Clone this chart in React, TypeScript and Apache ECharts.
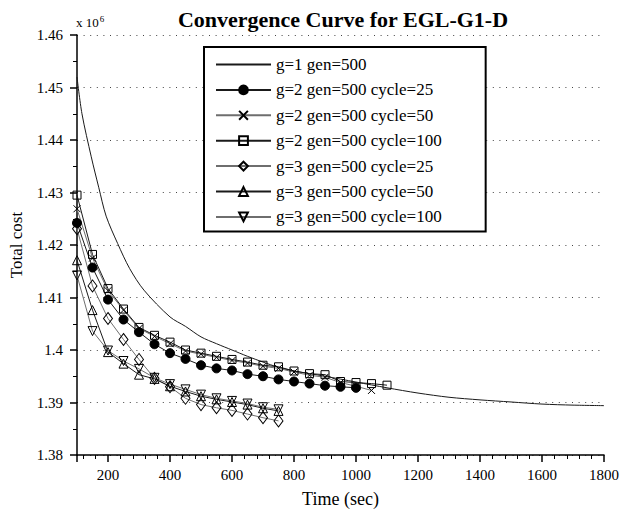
import React, { useEffect, useRef } from "react";
import * as echarts from "echarts";

const FONT = '"Liberation Serif", "Times New Roman", Times, serif';

const seriesNames = [
  "g=1 gen=500",
  "g=2 gen=500 cycle=25",
  "g=2 gen=500 cycle=50",
  "g=2 gen=500 cycle=100",
  "g=3 gen=500 cycle=25",
  "g=3 gen=500 cycle=50",
  "g=3 gen=500 cycle=100",
];

// g=1 gen=500 (plain curve)
const g1Times = [100, 116, 146, 170, 194, 231, 270, 316, 400, 450, 500, 550, 600, 650, 700, 750, 800, 850, 900, 1000, 1100, 1200, 1300, 1400, 1500, 1600, 1700, 1800];
const g1Cost = [1.452, 1.445, 1.4368, 1.431, 1.4255, 1.4203, 1.4155, 1.4114, 1.4063, 1.4045, 1.4025, 1.4012, 1.4, 1.3988, 1.3977, 1.3967, 1.396, 1.3955, 1.395, 1.3939, 1.3928, 1.3918, 1.391, 1.3905, 1.3901, 1.3897, 1.3895, 1.3894];

// g=2 cycle=25 (filled circles)
const g2c25Times = [100, 150, 200, 250, 300, 350, 400, 450, 500, 550, 600, 650, 700, 750, 800, 850, 900, 950, 1000];
const g2c25Cost = [1.4242, 1.4157, 1.4096, 1.4058, 1.4034, 1.4011, 1.3994, 1.3983, 1.3971, 1.3965, 1.3961, 1.3954, 1.395, 1.3944, 1.394, 1.3936, 1.3932, 1.393, 1.3928];

// g=2 cycle=50 (crosses)
const g2c50Times = [100, 150, 200, 250, 300, 350, 400, 450, 500, 550, 600, 650, 700, 750, 800, 850, 900, 950, 1000, 1050];
const g2c50Cost = [1.4269, 1.4175, 1.4113, 1.4076, 1.4041, 1.4026, 1.4012, 1.3998, 1.3992, 1.3986, 1.398, 1.3975, 1.3969, 1.3965, 1.3958, 1.3952, 1.3948, 1.3938, 1.3931, 1.3923];

// g=2 cycle=100 (squares)
const g2c100Times = [100, 150, 200, 250, 300, 350, 400, 450, 500, 550, 600, 650, 700, 750, 800, 850, 900, 950, 1000, 1050, 1100];
const g2c100Cost = [1.4295, 1.4182, 1.4117, 1.4078, 1.4043, 1.4028, 1.4015, 1.4, 1.3994, 1.3988, 1.3982, 1.3977, 1.3971, 1.3968, 1.396, 1.3955, 1.3953, 1.394, 1.3938, 1.3936, 1.3933];

// g=3 cycle=25 (diamonds)
const g3c25Times = [100, 150, 200, 250, 300, 350, 400, 450, 500, 550, 600, 650, 700, 750];
const g3c25Cost = [1.4231, 1.4122, 1.406, 1.402, 1.3982, 1.3946, 1.393, 1.3908, 1.3896, 1.389, 1.3885, 1.3878, 1.3871, 1.3865];

// g=3 cycle=50 (triangles up)
const g3c50Times = [100, 150, 200, 250, 300, 350, 400, 450, 500, 550, 600, 650, 700, 750];
const g3c50Cost = [1.4171, 1.4076, 1.3996, 1.3974, 1.3953, 1.3945, 1.3931, 1.3921, 1.3912, 1.3906, 1.3901, 1.3896, 1.3889, 1.3884];

// g=3 cycle=100 (triangles down)
const g3c100Times = [100, 150, 200, 250, 300, 350, 400, 450, 500, 550, 600, 650, 700, 750];
const g3c100Cost = [1.4142, 1.4036, 1.3999, 1.3979, 1.3964, 1.3947, 1.3935, 1.3925, 1.3915, 1.3908, 1.3903, 1.3898, 1.3891, 1.3887];

const titleText = "Convergence Curve for EGL-G1-D";
const xName = "Time (sec)";
const yName = "Total cost";

const zip = (t: number[], v: number[]) => t.map((x, i) => [x, v[i]]);

const DARK = "#1a1a1a";
const GRAY = "#6e6e6e";
const CROSS = "path://M0,0L10,10M10,0L0,10";

export default function App() {
  const ref = useRef<HTMLDivElement>(null);
  useEffect(() => {
    document.body.style.margin = "0";
    if (!ref.current) return;
    const chart = echarts.init(ref.current, undefined, { renderer: "svg" });

    const markerSeries = (
      name: string,
      data: number[][],
      lineColor: string,
      symbol: string,
      size: number | number[],
      filled: boolean,
      rotate = 0
    ) => ({
      name,
      type: "line",
      data,
      symbol,
      symbolSize: size,
      symbolRotate: rotate,
      showSymbol: true,
      lineStyle: { color: lineColor, width: 1 },
      itemStyle: {
        color: filled ? "#000" : "transparent",
        borderColor: "#000",
        borderWidth: 1,
      },
      emphasis: { disabled: true },
      z: 3,
    });

    const option: any = {
      animation: false,
      backgroundColor: "#fff",
      textStyle: { fontFamily: FONT, color: "#000" },
      grid: { left: 75, right: 13, top: 35, bottom: 58 },
      graphic: [
        {
          type: "text",
          x: 343,
          y: 19,
          style: {
            text: titleText,
            font: `bold 22px ${FONT}`,
            fill: "#000",
            textAlign: "center",
            textVerticalAlign: "middle",
          },
        },
        {
          type: "text",
          x: 76,
          y: 31,
          style: {
            text: "x 10{sup|6}",
            font: `13px ${FONT}`,
            fill: "#000",
            textVerticalAlign: "bottom",
            rich: {
              sup: { fontSize: 9, fontFamily: FONT, verticalAlign: "top", padding: [0, 0, 8, 1] },
            },
          },
        },
      ],
      legend: {
        orient: "vertical",
        left: 204,
        top: 47,
        itemWidth: 55,
        itemHeight: 11,
        itemGap: 8.4,
        padding: [9, 44, 6, 11],
        borderColor: "#000",
        borderWidth: 2,
        backgroundColor: "#fff",
        textStyle: { fontFamily: FONT, fontSize: 17, color: "#000" },
        data: seriesNames,
      },
      xAxis: {
        type: "value",
        min: 100,
        max: 1800,
        splitNumber: 8,
        name: xName,
        nameLocation: "middle",
        nameGap: 35,
        nameTextStyle: { fontFamily: FONT, fontSize: 18, color: "#000" },
        axisLine: { onZero: false, lineStyle: { color: "#000", width: 1.5 } },
        axisTick: { inside: false, length: 7, lineStyle: { color: "#000", width: 1.5 } },
        minorTick: { show: true, splitNumber: 5, length: 4, lineStyle: { color: "#000", width: 1 } },
        axisLabel: {
          showMinLabel: false,
          margin: 12,
          fontFamily: FONT,
          fontSize: 15,
          color: "#000",
          formatter: (v: number) => String(Math.round(v)),
        },
        splitLine: { show: false },
      },
      yAxis: {
        type: "value",
        min: 1.38,
        max: 1.46,
        interval: 0.01,
        name: yName,
        nameLocation: "middle",
        nameGap: 52,
        nameTextStyle: { fontFamily: FONT, fontSize: 17, color: "#000" },
        axisLine: { onZero: false, lineStyle: { color: "#000", width: 1.5 } },
        axisTick: { inside: false, length: 7, lineStyle: { color: "#000", width: 1.5 } },
        minorTick: { show: true, splitNumber: 2, length: 4, lineStyle: { color: "#000", width: 1 } },
        axisLabel: {
          margin: 14,
          fontFamily: FONT,
          fontSize: 15,
          color: "#000",
          formatter: (v: number) => String(parseFloat(v.toFixed(2))),
        },
        splitLine: { show: true, lineStyle: { color: "#444", width: 1, type: [1, 5.6] } },
      },
      series: [
        {
          name: seriesNames[0],
          type: "line",
          data: zip(g1Times, g1Cost),
          smooth: 0.3,
          symbol: "circle",
          symbolSize: 0,
          showSymbol: false,
          lineStyle: { color: DARK, width: 1 },
          itemStyle: { color: "transparent", borderColor: "transparent", borderWidth: 0 },
          emphasis: { disabled: true },
          z: 2,
        },
        markerSeries(seriesNames[1], zip(g2c25Times, g2c25Cost), DARK, "circle", 9, true),
        markerSeries(seriesNames[2], zip(g2c50Times, g2c50Cost), GRAY, CROSS, 7, false),
        markerSeries(seriesNames[3], zip(g2c100Times, g2c100Cost), DARK, "rect", 8, false),
        markerSeries(seriesNames[4], zip(g3c25Times, g3c25Cost), GRAY, "diamond", [9, 12], false),
        markerSeries(seriesNames[5], zip(g3c50Times, g3c50Cost), DARK, "triangle", 9, false),
        markerSeries(seriesNames[6], zip(g3c100Times, g3c100Cost), GRAY, "triangle", 9, false, 180),
      ],
    };
    chart.setOption(option);
    return () => chart.dispose();
  }, []);
  return <div ref={ref} style={{ width: 622, height: 513 }} />;
}
